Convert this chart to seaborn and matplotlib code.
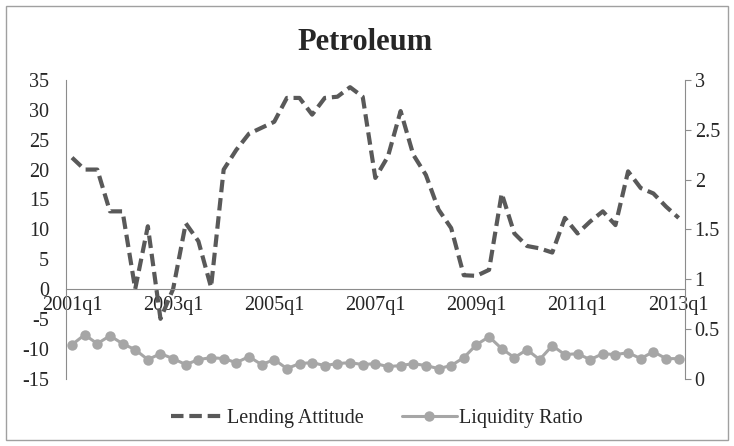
import seaborn as sns
import matplotlib.pyplot as plt
import pandas as pd
from matplotlib.patches import Rectangle
from matplotlib.ticker import FormatStrFormatter

quarters = [f"{y}q{q}" for y in range(2001, 2014) for q in range(1, 5)][:49]

lending_attitude = [22, 20, 20, 13, 13, 0, 10.5, -5, 0, 11,
                    8, 0.3, 20, 23.3, 26, 27, 28, 32, 32, 29.2,
                    32, 32.2, 33.8, 32.2, 18.6, 22.2, 29.8, 22.5, 19.1, 13.3,
                    10.2, 2.3, 2.2, 3.2, 16, 9.3, 7.2, 6.8, 6.1, 11.9,
                    9.3, 11.3, 13, 10.7, 19.7, 16.9, 16, 13.8, 11.9]

liquidity_ratio = [0.34, 0.44, 0.35, 0.43, 0.35, 0.29, 0.19, 0.25, 0.20, 0.14,
                   0.19, 0.21, 0.20, 0.16, 0.22, 0.14, 0.19, 0.10, 0.15, 0.16,
                   0.13, 0.15, 0.16, 0.14, 0.15, 0.12, 0.13, 0.15, 0.13, 0.10,
                   0.13, 0.21, 0.34, 0.42, 0.30, 0.21, 0.29, 0.19, 0.33, 0.24,
                   0.25, 0.19, 0.25, 0.24, 0.26, 0.20, 0.27, 0.20, 0.20]

df = pd.DataFrame({"quarter": quarters,
                   "lending": lending_attitude,
                   "liquidity": liquidity_ratio})
df["t"] = range(len(df))

sns.set_style("white")
plt.rcParams['font.family'] = ['Liberation Serif', 'DejaVu Serif']
plt.rcParams['axes.unicode_minus'] = False

axis_gray = "#8c8c8c"

fig = plt.figure(figsize=(7.34, 4.46), dpi=100)
ax = fig.add_axes([0.0895, 0.1513, 0.8437, 0.6693])
ax2 = ax.twinx()

sns.lineplot(data=df, x="t", y="lending", ax=ax, color="#595959",
             linewidth=3.0, label="Lending Attitude")
ax.lines[-1].set_dashes((3, 1.4))

sns.lineplot(data=df, x="t", y="liquidity", ax=ax2, color="#a6a6a6",
             linewidth=2.2, marker="o", markersize=7.5, markeredgewidth=0,
             label="Liquidity Ratio")

for a in (ax, ax2):
    if a.get_legend() is not None:
        a.get_legend().remove()

ax.set_xlim(-0.5, 48.5)
ax.set_ylim(-15, 35)
ax.set_yticks(range(-15, 36, 5))
ax2.set_ylim(0, 3)
ax2.set_yticks([0, 0.5, 1, 1.5, 2, 2.5, 3])
ax2.yaxis.set_major_formatter(FormatStrFormatter("%g"))

ax.set_xticks(df["t"][::8])
ax.set_xticklabels(df["quarter"][::8])

ax.set_xlabel("")
ax.set_ylabel("")
ax2.set_ylabel("")

ax.spines["top"].set_visible(False)
ax.spines["right"].set_visible(False)
ax.spines["bottom"].set_position(("data", 0))
ax.spines["bottom"].set_color(axis_gray)
ax.spines["left"].set_color(axis_gray)
for s in ("top", "bottom", "left"):
    ax2.spines[s].set_visible(False)
ax2.spines["right"].set_color(axis_gray)

ax.tick_params(axis="y", length=0, pad=12, labelsize=14.5)
ax.tick_params(axis="x", length=0, pad=5, labelsize=14.5)
ax2.tick_params(axis="y", length=4, color=axis_gray, pad=3, labelsize=14.5)

fig.text(0.497, 1 - 42 / 446, "Petroleum", ha="center", va="center",
         fontsize=22, fontweight="bold")

h1, l1 = ax.get_legend_handles_labels()
h2, l2 = ax2.get_legend_handles_labels()
fig.legend(h1 + h2, l1 + l2, loc="center", bbox_to_anchor=(0.513, 1 - 418 / 446),
           ncol=2, frameon=False, fontsize=14.5, handlelength=2.7,
           handletextpad=0.1, columnspacing=1.9, numpoints=1)

fig.patches.append(Rectangle((0.008, 0.013), 0.984, 0.974, transform=fig.transFigure,
                             fill=False, edgecolor="#a0a0a0", linewidth=1))

fig.savefig("out.png", dpi=100)
